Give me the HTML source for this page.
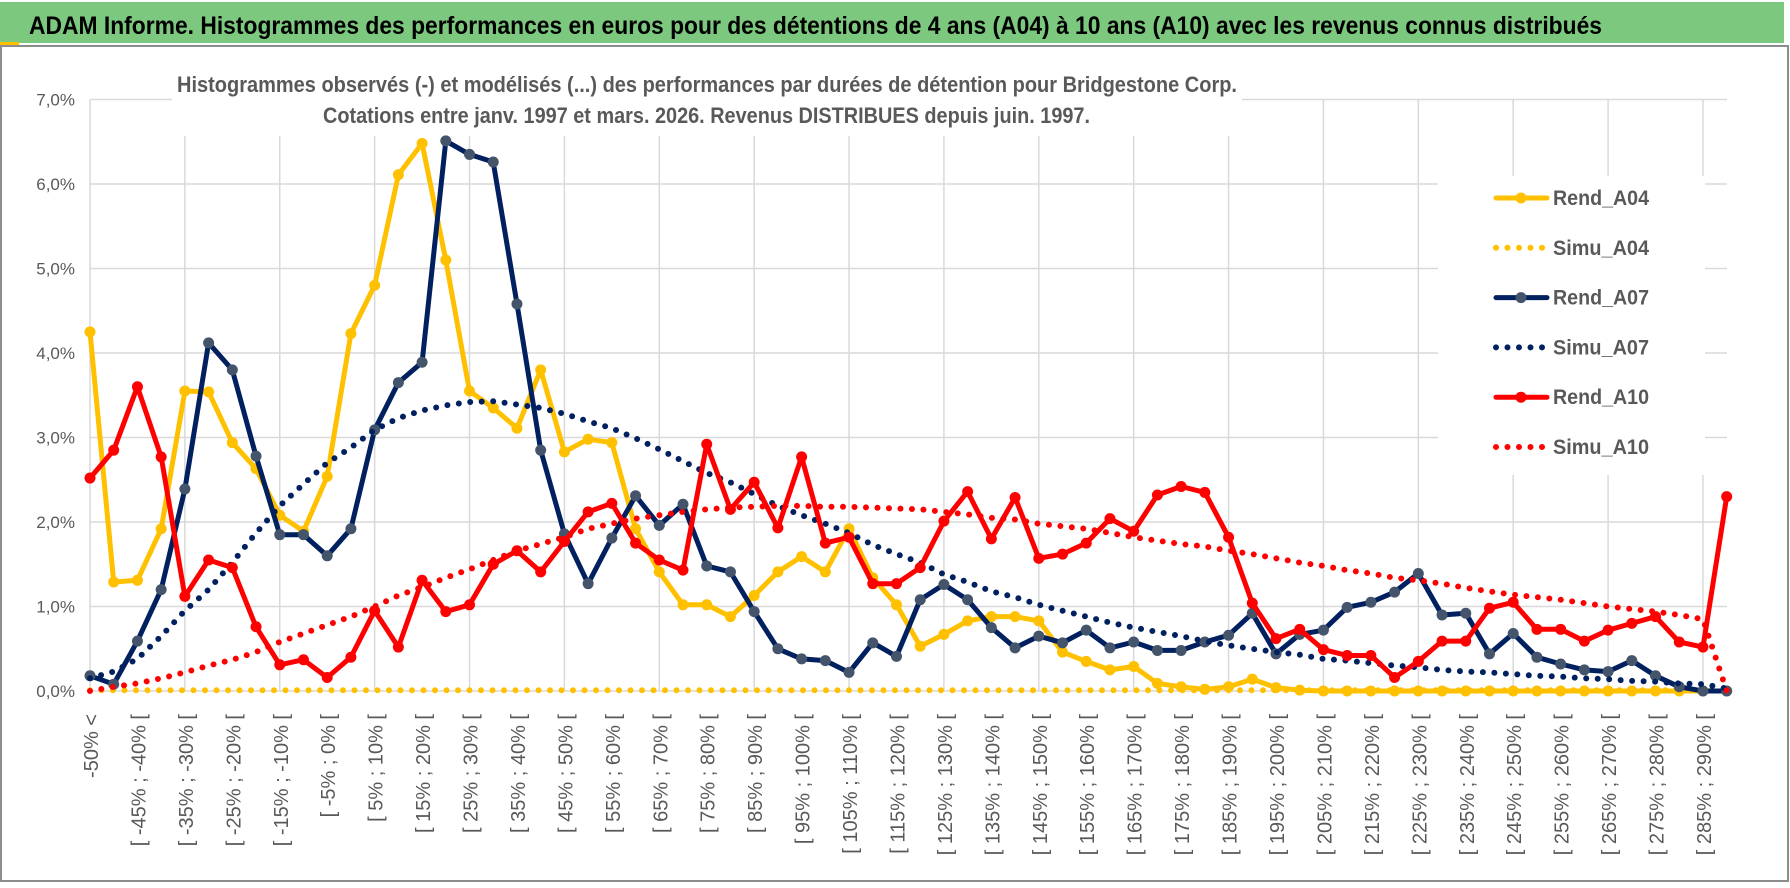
<!DOCTYPE html>
<html><head><meta charset="utf-8"><style>
html,body{margin:0;padding:0;background:#fff;}
svg{display:block;font-family:"Liberation Sans",sans-serif;}
</style></head><body>
<svg id="chart" width="1790" height="888" viewBox="0 0 1790 888">
<rect x="0" y="0" width="1790" height="888" fill="#fff"/>
<rect x="1" y="46" width="1787" height="835" fill="#fff" stroke="#8c8c8c" stroke-width="2"/>
<rect x="0" y="2" width="1784" height="41" fill="#7dc87f"/>
<rect x="0" y="42" width="19" height="3" fill="#ffc000"/>
<text x="29" y="34" font-size="25" font-weight="bold" fill="#000" textLength="1573" lengthAdjust="spacingAndGlyphs">ADAM Informe. Histogrammes des performances en euros pour des détentions de 4 ans (A04) à 10 ans (A10) avec les revenus connus distribués</text>
<g id="grid"></g>
<rect x="172" y="58" width="1070" height="78" fill="#fff"/>
<text x="177" y="92" font-size="22" font-weight="bold" fill="#595959" textLength="1060" lengthAdjust="spacingAndGlyphs">Histogrammes observés (-) et modélisés (...) des performances par durées de détention pour Bridgestone Corp.</text>
<text x="323" y="123" font-size="22" font-weight="bold" fill="#595959" textLength="767" lengthAdjust="spacingAndGlyphs">Cotations entre janv. 1997 et mars. 2026. Revenus DISTRIBUES depuis juin. 1997.</text>
<g id="yaxis"></g>
<g id="xaxis"></g>
<g id="series"></g>
<g id="legend"></g>
</svg>
<script>
const rendA04 = [4.25,1.29,1.31,1.92,3.55,3.54,2.94,2.63,2.08,1.89,2.54,4.23,4.80,6.11,6.48,5.10,3.55,3.35,3.11,3.80,2.83,2.98,2.94,1.92,1.41,1.02,1.02,0.88,1.13,1.41,1.59,1.41,1.92,1.34,1.02,0.53,0.67,0.83,0.88,0.88,0.83,0.46,0.35,0.25,0.29,0.09,0.05,0.02,0.05,0.14,0.04,0.01,0,0,0,0,0,0,0,0,0,0,0,0,0,0,0,0,0,0];
const simuA04 = [0.01,0.01,0.01,0.01,0.01,0.01,0.01,0.01,0.01,0.01,0.01,0.01,0.01,0.01,0.01,0.01,0.01,0.01,0.01,0.01,0.01,0.01,0.01,0.01,0.01,0.01,0.01,0.01,0.01,0.01,0.01,0.01,0.01,0.01,0.01,0.01,0.01,0.01,0.01,0.01,0.01,0.01,0.01,0.01,0.01,0.01,0.01,0.01,0.01,0.01,0.01,0.01,0.01,0.01,0.01,0.01,0.01,0.01,0.01,0.01,0.01,0.01,0.01,0.01,0.01,0.01,0.01,0.01,0.01,0.01];
const rendA07 = [0.18,0.08,0.59,1.20,2.39,4.12,3.80,2.78,1.85,1.85,1.60,1.92,3.09,3.65,3.89,6.51,6.35,6.26,4.58,2.85,1.86,1.27,1.81,2.31,1.96,2.21,1.48,1.41,0.94,0.50,0.38,0.36,0.22,0.57,0.41,1.08,1.26,1.08,0.75,0.51,0.65,0.57,0.72,0.51,0.58,0.48,0.48,0.58,0.66,0.92,0.44,0.67,0.72,0.99,1.05,1.17,1.39,0.90,0.92,0.44,0.68,0.40,0.32,0.25,0.23,0.36,0.18,0.05,0.0,0.0];
const simuA07 = [0.15,0.23,0.38,0.65,0.95,1.20,1.52,1.87,2.19,2.45,2.70,2.88,3.09,3.23,3.32,3.38,3.42,3.43,3.39,3.35,3.28,3.19,3.11,2.99,2.86,2.72,2.58,2.47,2.33,2.19,2.08,1.98,1.87,1.73,1.62,1.52,1.38,1.29,1.18,1.11,1.02,0.95,0.88,0.81,0.75,0.70,0.65,0.59,0.54,0.50,0.46,0.43,0.38,0.36,0.33,0.30,0.28,0.25,0.23,0.22,0.20,0.18,0.17,0.15,0.14,0.12,0.11,0.09,0.08,0.03];
const rendA10 = [2.52,2.85,3.60,2.77,1.12,1.55,1.46,0.76,0.31,0.37,0.16,0.40,0.95,0.52,1.31,0.94,1.02,1.50,1.66,1.41,1.77,2.12,2.22,1.75,1.55,1.43,2.92,2.15,2.47,1.93,2.77,1.75,1.82,1.27,1.27,1.46,2.01,2.36,1.80,2.29,1.57,1.62,1.75,2.04,1.89,2.32,2.42,2.35,1.82,1.04,0.62,0.73,0.49,0.42,0.42,0.16,0.35,0.59,0.59,0.98,1.05,0.73,0.73,0.59,0.72,0.80,0.88,0.58,0.52,2.30];
const simuA10 = [0.0,0.05,0.09,0.15,0.22,0.30,0.37,0.46,0.58,0.68,0.78,0.88,1.00,1.13,1.23,1.34,1.44,1.55,1.66,1.74,1.82,1.92,1.98,2.04,2.08,2.12,2.15,2.17,2.18,2.19,2.19,2.18,2.18,2.17,2.16,2.15,2.12,2.09,2.05,2.03,1.98,1.95,1.92,1.87,1.82,1.78,1.74,1.71,1.66,1.62,1.57,1.52,1.48,1.43,1.39,1.34,1.31,1.27,1.22,1.18,1.14,1.11,1.08,1.04,1.00,0.97,0.94,0.90,0.85,0.0];
const yTicks = [0,1,2,3,4,5,6,7];
const yTickLabels = ["0,0%","1,0%","2,0%","3,0%","4,0%","5,0%","6,0%","7,0%"];
const legendNames = ["Rend_A04","Simu_A04","Rend_A07","Simu_A07","Rend_A10","Simu_A10"];

const NS="http://www.w3.org/2000/svg";
const X0=90, DX=23.72, Y0=691, DY=84.5, XR=1727;
function xPos(i){return X0+DX*i;}
function yPos(v){return Y0-DY*v;}
function mk(tag,attrs,parent){const e=document.createElementNS(NS,tag);for(const k in attrs)e.setAttribute(k,attrs[k]);parent.appendChild(e);return e;}
const nCat=rendA04.length;
function catLabel(i){if(i===0)return "-50% <";const lo=-50+5*(i-1);return "[ "+lo+"% ; "+(lo+5)+"% [";}

const grid=document.getElementById('grid');
yTicks.forEach(t=>{
  const l=mk('line',{x1:X0,x2:XR,y1:yPos(t),y2:yPos(t),stroke:'#d9d9d9','stroke-width':1.5},grid);
  
  
});
for(let i=0;i<nCat;i+=4){
  const l=mk('line',{x1:xPos(i),x2:xPos(i),y1:yPos(7),y2:Y0,stroke:'#d9d9d9','stroke-width':1.5},grid);
  
  
}
const yax=document.getElementById('yaxis');
yTicks.forEach((t,k)=>{
  const tx=mk('text',{x:75,y:yPos(t)+6,'text-anchor':'end','font-size':17,fill:'#595959'},yax);
  tx.textContent=yTickLabels[k];
  
  
});
const xax=document.getElementById('xaxis');
for(let i=0;i<nCat;i+=2){
  const x=xPos(i)+8;
  const tx=mk('text',{x:x,y:714,transform:'rotate(-90 '+x+' 714)','text-anchor':'end','font-size':20,fill:'#595959'},xax);
  tx.textContent=catLabel(i);
  
  
}
const ser=document.getElementById('series');
function pathD(arr){return arr.map((v,i)=>(i?'L':'M')+xPos(i).toFixed(1)+' '+yPos(v).toFixed(1)).join(' ');}
function solid(arr,color,mcolor,name){
  const g=mk('g',{},ser);
  
  
  const p=mk('path',{d:pathD(arr),fill:'none',stroke:color,'stroke-width':5,'stroke-linejoin':'round'},g);
  
  
  arr.forEach((v,i)=>{
    const c=mk('circle',{cx:xPos(i),cy:yPos(v),r:5.5,fill:mcolor},g);
    
    
  });
}
function dotted(arr,color,name){
  const p=mk('path',{d:pathD(arr),fill:'none',stroke:color,'stroke-width':6,'stroke-linecap':'round','stroke-dasharray':'0 11.5'},ser);
  
  
}
solid(rendA04,'#ffc000','#ffc000','rend-a04');
dotted(simuA04,'#ffc000','simu-a04');
solid(rendA07,'#002060','#44546a','rend-a07');
dotted(simuA07,'#002060','simu-a07');
solid(rendA10,'#ff0000','#ff0000','rend-a10');
dotted(simuA10,'#ff0000','simu-a10');

const lg=document.getElementById('legend');
const lb=mk('rect',{x:1438,y:176,width:267,height:299,fill:'#fff'},lg);


const lstyles=[['#ffc000','#ffc000',false],['#ffc000',null,true],['#002060','#44546a',false],['#002060',null,true],['#ff0000','#ff0000',false],['#ff0000',null,true]];
legendNames.forEach((n,k)=>{
  const y=198+49.8*k;
  const g=mk('g',{},lg);
  
  
  const s=lstyles[k];
  if(s[2]){
    mk('line',{x1:1496,x2:1547,y1:y,y2:y,stroke:s[0],'stroke-width':6,'stroke-linecap':'round','stroke-dasharray':'0 11.5'},g);
  } else {
    mk('line',{x1:1496,x2:1547,y1:y,y2:y,stroke:s[0],'stroke-width':5,'stroke-linecap':'round'},g);
    mk('circle',{cx:1521,cy:y,r:5.5,fill:s[1]},g);
  }
  const t=mk('text',{x:1553,y:y+7,'font-size':21,'font-weight':'bold',fill:'#595959',textLength:96,lengthAdjust:'spacingAndGlyphs'},g);
  t.textContent=n;
});
</script>
</body></html>
